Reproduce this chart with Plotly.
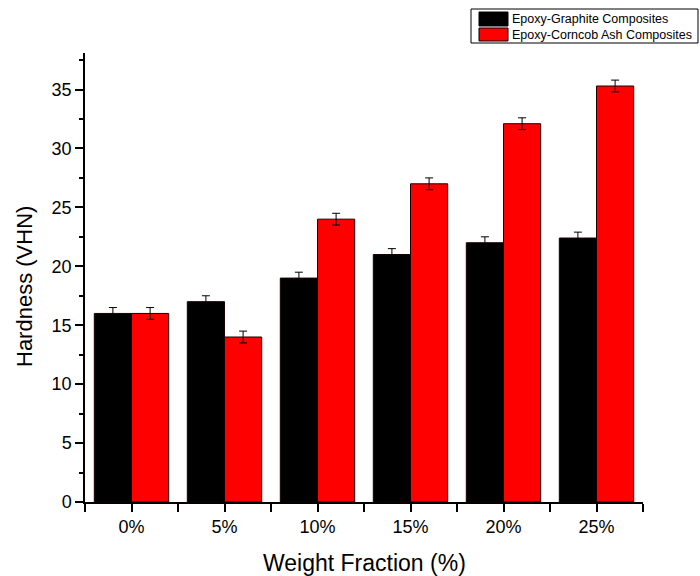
import plotly.graph_objects as go

categories = ["0%", "5%", "10%", "15%", "20%", "25%"]
graphite = [16.0, 17.0, 19.0, 21.0, 22.0, 22.4]
graphite_err = [0.5, 0.5, 0.5, 0.5, 0.5, 0.5]
corncob = [16.0, 14.0, 24.0, 27.0, 32.1, 35.3]
corncob_err = [0.5, 0.5, 0.5, 0.5, 0.5, 0.5]
series_names = ["Epoxy-Graphite Composites", "Epoxy-Corncob Ash Composites"]
series_colors = ["#000000", "#ff0000"]
y_ticks = [0, 5, 10, 15, 20, 25, 30, 35]
x_title = "Weight Fraction (%)"
y_title = "Hardness (VHN)"

xpos = list(range(len(categories)))
FONT = "Liberation Sans, Arial, sans-serif"

fig = go.Figure()
for name, vals, errs, col in [
    (series_names[0], graphite, graphite_err, series_colors[0]),
    (series_names[1], corncob, corncob_err, series_colors[1]),
]:
    fig.add_trace(go.Bar(
        x=xpos, y=vals, name=name,
        marker=dict(color=col, line=dict(color="#1a0000", width=1)),
        error_y=dict(type="data", array=errs, visible=True, color="#000000",
                     thickness=1, width=4),
        showlegend=False,
    ))

L, R, T, B = 85, 57, 53, 74
W, H = 700, 576
fig.update_layout(
    width=W, height=H,
    margin=dict(l=L, r=R, t=T, b=B),
    paper_bgcolor="white", plot_bgcolor="white",
    barmode="group", bargap=0.2, bargroupgap=0,
    font=dict(family=FONT, color="black"),
)
fig.update_xaxes(
    range=[-0.5, 5.5], tickvals=xpos, ticktext=categories, automargin=False,
    showline=True, linecolor="black", linewidth=1.5,
    ticks="outside", ticklen=8, tickwidth=1.5, tickcolor="black",
    minor=dict(tick0=0.5, dtick=1, ticks="outside", ticklen=8, tickwidth=1.5, tickcolor="black"),
    showgrid=False, zeroline=False,
    tickfont=dict(size=18, family=FONT, color="black"),
)
fig.update_yaxes(
    range=[0, 38.1], tickvals=y_ticks, automargin=False,
    showline=True, linecolor="black", linewidth=1.5,
    ticks="outside", ticklen=8, tickwidth=1.5, tickcolor="black",
    minor=dict(dtick=2.5, ticks="outside", ticklen=4, tickwidth=1.5, tickcolor="black"),
    showgrid=False, zeroline=False,
    tickfont=dict(size=18, family=FONT, color="black"),
)

pw, ph = W - L - R, H - T - B
def px(x):
    return (x - L) / pw
def py(y):
    return (H - B - y) / ph

# axis titles
fig.add_annotation(xref="paper", yref="paper", x=px(364), y=py(563), text=x_title,
                   showarrow=False, xanchor="center", yanchor="middle",
                   font=dict(size=23, family=FONT, color="black"))
fig.add_annotation(xref="paper", yref="paper", x=px(24), y=py(287), text=y_title,
                   showarrow=False, xanchor="center", yanchor="middle", textangle=-90,
                   font=dict(size=22, family=FONT, color="black"))

# custom legend (box + swatches + text)
fig.add_shape(type="rect", xref="paper", yref="paper",
              x0=px(471), x1=px(698), y0=py(43), y1=py(9),
              line=dict(color="black", width=1), fillcolor="white", layer="above")
for i, (name, col) in enumerate(zip(series_names, series_colors)):
    y0, y1 = (12, 26) if i == 0 else (28, 41)
    fig.add_shape(type="rect", xref="paper", yref="paper",
                  x0=px(479), x1=px(508), y0=py(y1), y1=py(y0),
                  line=dict(color="black", width=1), fillcolor=col, layer="above")
    fig.add_annotation(xref="paper", yref="paper", x=px(510), y=py((y0 + y1) / 2),
                       text=name, showarrow=False, xanchor="left", yanchor="middle",
                       font=dict(size=12.5, family=FONT, color="black"))

fig.write_html("out.html")
